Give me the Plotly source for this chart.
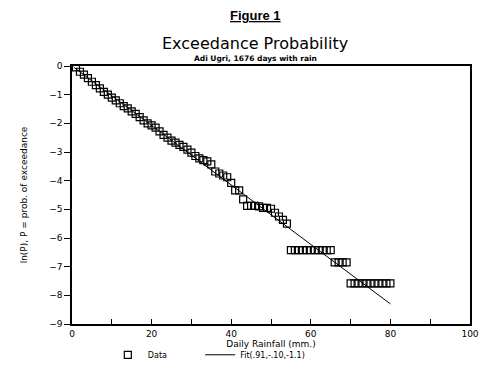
import plotly.graph_objects as go

# Data
data_x = list(range(1, 81))
data_y = [
    -0.05, -0.20, -0.30, -0.42, -0.55, -0.67, -0.78, -0.90, -1.00, -1.10,
    -1.20, -1.30, -1.40, -1.48, -1.58, -1.67, -1.78, -1.90, -2.00, -2.07,
    -2.15, -2.28, -2.40, -2.50, -2.60, -2.67, -2.75, -2.82, -2.92, -3.02,
    -3.14, -3.22, -3.28, -3.33, -3.43, -3.68, -3.75, -3.82, -3.88, -4.08,
    -4.34, -4.34, -4.65, -4.88, -4.88, -4.88, -4.90, -4.95, -4.95, -4.98,
    -5.12, -5.25, -5.37, -5.50,
    -6.42, -6.42, -6.42, -6.42, -6.42, -6.42, -6.42, -6.42, -6.42, -6.42, -6.42,
    -6.85, -6.85, -6.85, -6.85,
    -7.58, -7.58, -7.58, -7.58, -7.58, -7.58, -7.58, -7.58, -7.58, -7.58, -7.58,
]
fit_x = [0.5, 80]
fit_y = [-0.05, -8.3]

x_tickvals = [0, 10, 20, 30, 40, 50, 60, 70, 80, 90, 100]
x_ticktext = ["0", "", "20", "", "40", "", "60", "", "80", "", "100"]
y_tickvals = [0, -1, -2, -3, -4, -5, -6, -7, -8, -9]

FONT = "DejaVu Sans"

fig = go.Figure()
fig.add_trace(go.Scatter(
    x=data_x, y=data_y, mode="markers", name="Data", legend="legend",
    marker=dict(symbol="square-open", size=7, color="black", line=dict(width=1.2)),
))
fig.add_trace(go.Scatter(
    x=fit_x, y=fit_y, mode="lines", name="Fit(.91,-.10,-1.1)", legend="legend2",
    line=dict(color="black", width=1),
))

legend_common = dict(
    orientation="h", xanchor="left", y=-0.115, yanchor="middle",
    font=dict(size=8, color="black"), bgcolor="rgba(0,0,0,0)", itemclick=False,
)

fig.update_layout(
    width=484, height=372,
    margin=dict(l=64, r=22, t=58, b=55),
    paper_bgcolor="white", plot_bgcolor="white",
    font=dict(family=FONT, size=9, color="black"),
    showlegend=True,
    legend=dict(x=0.09, **legend_common),
    legend2=dict(x=0.322, **legend_common),
    xaxis=dict(
        range=[0, 100], tickvals=x_tickvals, ticktext=x_ticktext,
        ticks="inside", ticklen=5, tickcolor="black", tickwidth=1,
        showline=True, linecolor="black", linewidth=1.5, mirror=True,
        showgrid=False, zeroline=False,
        title=dict(text="Daily Rainfall (mm.)", font=dict(size=9, color="black"), standoff=2),
    ),
    yaxis=dict(
        range=[-9, 0], tickvals=y_tickvals,
        ticks="outside", ticklen=6, tickcolor="black", tickwidth=1,
        showline=True, linecolor="black", linewidth=1.5, mirror=True,
        showgrid=False, zeroline=False,
        title=dict(text="ln(P), P = prob. of exceedance", font=dict(size=9, color="black"), standoff=20),
    ),
    annotations=[
        dict(text="<b><u>Figure 1</u></b>", xref="paper", yref="paper",
             x=0.46, y=1.0, yanchor="middle", showarrow=False,
             font=dict(size=13, family="Liberation Sans", color="black"),
             yshift=51),
        dict(text="Exceedance Probability", xref="paper", yref="paper",
             x=0.46, y=1.0, yanchor="middle", showarrow=False,
             font=dict(size=16, family=FONT, color="black"),
             yshift=23),
        dict(text="<b>Adi Ugri, 1676 days with rain</b>", xref="paper", yref="paper",
             x=0.46, y=1.0, yanchor="middle", showarrow=False,
             font=dict(size=7.5, family=FONT, color="black"),
             yshift=8),
    ],
)

fig.write_html("out.html")
